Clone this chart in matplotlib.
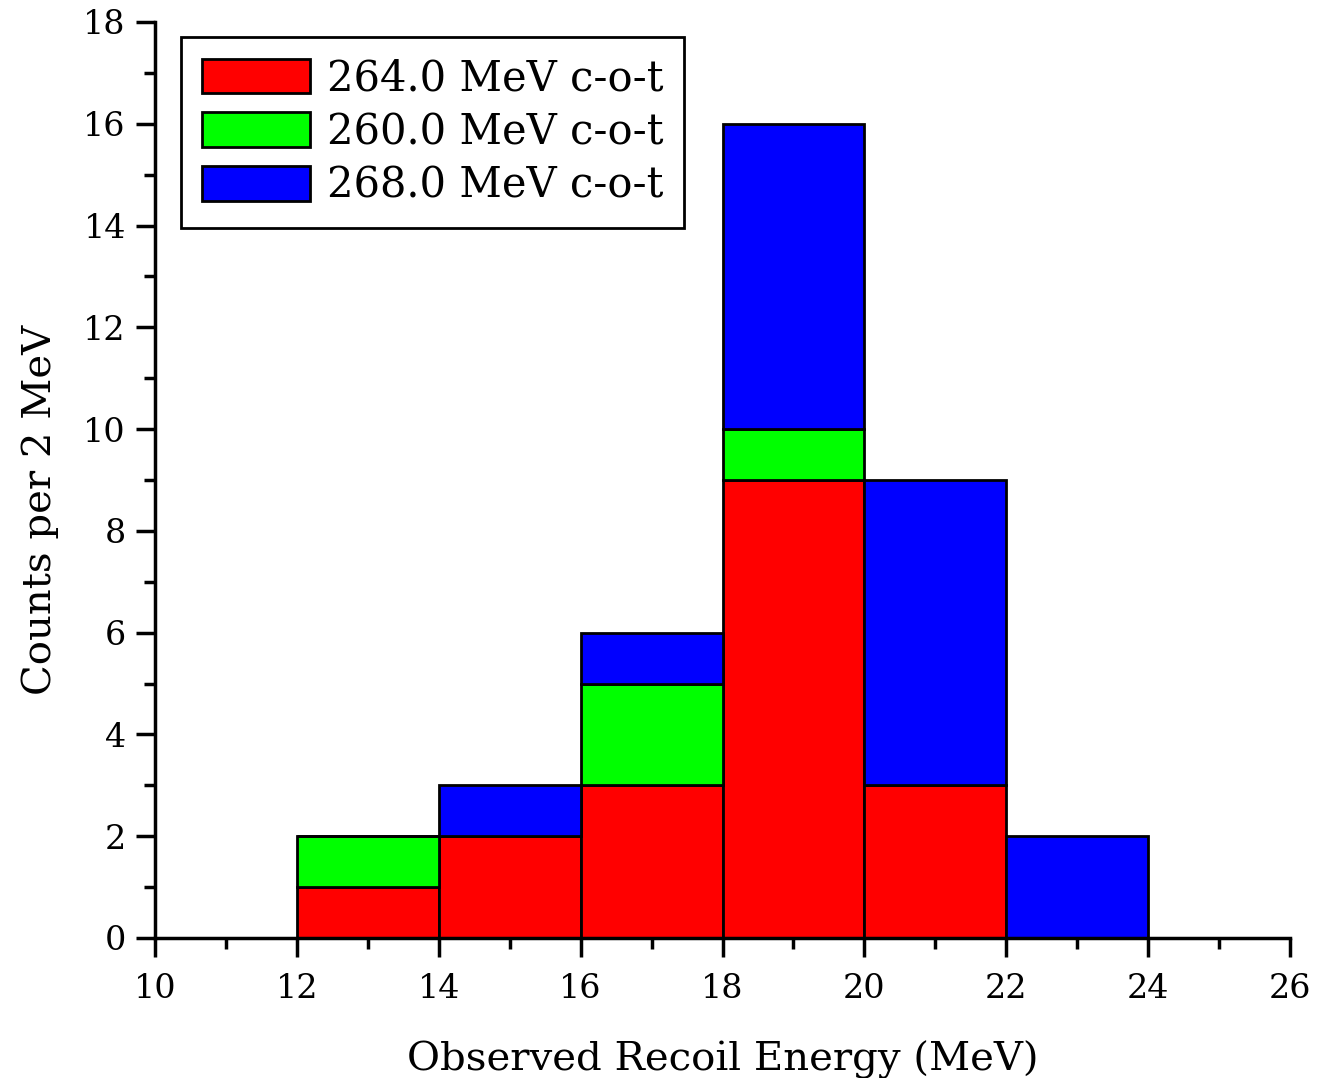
import matplotlib
matplotlib.use('Agg')
import matplotlib.pyplot as plt
from matplotlib.ticker import MultipleLocator

plt.rcParams['font.family'] = ['DejaVu Serif']

# ── 数据 ──
bin_left = [12, 14, 16, 18, 20, 22]
bin_width = 2
counts_264 = [1, 2, 3, 9, 3, 0]
counts_260 = [1, 0, 2, 1, 0, 0]
counts_268 = [0, 1, 1, 6, 6, 2]
labels = ['264.0 MeV c-o-t', '260.0 MeV c-o-t', '268.0 MeV c-o-t']
colors = ['#ff0000', '#00ff00', '#0000ff']

fig = plt.figure(figsize=(13.17, 10.78), dpi=100)
ax = fig.add_axes([0.1177, 0.1299, 0.8618, 0.8497])

bottom = [0] * len(bin_left)
for vals, lab, col in zip([counts_264, counts_260, counts_268], labels, colors):
    ax.bar(bin_left, vals, width=bin_width, bottom=bottom, align='edge',
           color=col, edgecolor='black', linewidth=2, label=lab)
    bottom = [b + v for b, v in zip(bottom, vals)]

ax.set_xlim(10, 26)
ax.set_ylim(0, 18)
ax.xaxis.set_major_locator(MultipleLocator(2))
ax.xaxis.set_minor_locator(MultipleLocator(1))
ax.yaxis.set_major_locator(MultipleLocator(2))
ax.yaxis.set_minor_locator(MultipleLocator(1))
for s in ['top', 'right']:
    ax.spines[s].set_visible(False)
for s in ['left', 'bottom']:
    ax.spines[s].set_linewidth(2.5)
ax.tick_params(which='major', direction='out', length=14, width=2.5, labelsize=24, pad=7)
ax.tick_params(axis='x', which='major', pad=11)
ax.tick_params(which='minor', direction='out', length=8, width=2.5)

ax.set_xlabel('Observed Recoil Energy (MeV)', fontsize=29, labelpad=26)
ax.set_ylabel('Counts per 2 MeV', fontsize=29)
ax.yaxis.set_label_coords(-0.085, 0.467)

leg = ax.legend(loc='upper left', bbox_to_anchor=(0.023, 0.984), borderaxespad=0,
                fontsize=30, fancybox=False, framealpha=1, edgecolor='black',
                handlelength=2.6, handleheight=0.9, handletextpad=0.4,
                borderpad=0.5, labelspacing=0.28)
leg.get_frame().set_linewidth(2)

plt.savefig('out.png', dpi=100)
